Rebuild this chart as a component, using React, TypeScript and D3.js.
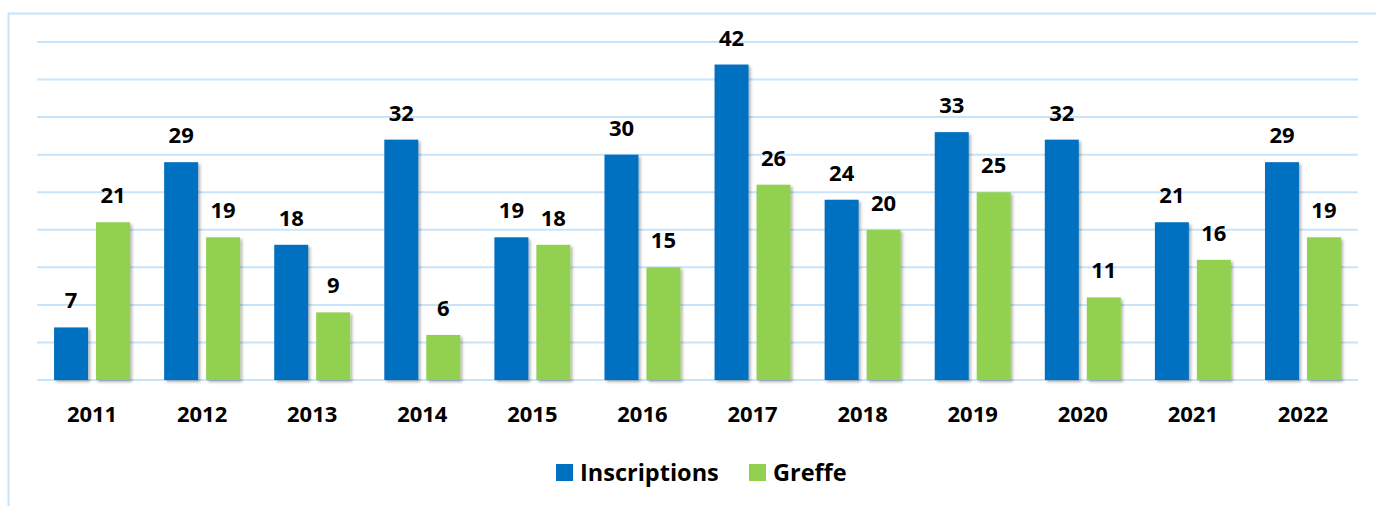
import React, { useEffect, useRef } from 'react';
import * as d3 from 'd3';

const years = ['2011', '2012', '2013', '2014', '2015', '2016', '2017', '2018', '2019', '2020', '2021', '2022'];
const inscriptions = [7, 29, 18, 32, 19, 30, 42, 24, 33, 32, 21, 29];
const greffe = [21, 19, 9, 6, 18, 15, 26, 20, 25, 11, 16, 19];
const seriesNames = ['Inscriptions', 'Greffe'];
const seriesColors = ['#0070C0', '#92D050'];
const yTicks = [0, 5, 10, 15, 20, 25, 30, 35, 40, 45];

const W = 1376;
const H = 506;
const FONT = '"Open Sans", "Noto Sans", sans-serif';

const App = () => {
  const svgRef = useRef<SVGSVGElement>(null);

  useEffect(() => {
    const svg = d3.select(svgRef.current);
    svg.selectAll('*').remove();

    const margin = { top: 42, right: 18, bottom: 126, left: 37 };

    // drop shadow for the bars
    const defs = svg.append('defs');
    const filter = defs.append('filter').attr('id', 'barShadow').attr('x', '-20%').attr('y', '-5%').attr('width', '150%').attr('height', '115%');
    filter
      .append('feDropShadow')
      .attr('dx', 2)
      .attr('dy', 2)
      .attr('stdDeviation', 1.6)
      .attr('flood-color', '#000')
      .attr('flood-opacity', 0.3);

    // frame
    svg
      .append('path')
      .attr('d', `M8.5,${H} L8.5,13.5 L${W},13.5`)
      .attr('fill', 'none')
      .attr('stroke', '#c6e3fa')
      .attr('stroke-width', 2);

    const x0 = d3
      .scaleBand()
      .domain(years)
      .range([margin.left, W - margin.right])
      .paddingInner(0.31)
      .paddingOuter(0.155);

    const x1 = d3.scaleBand().domain(seriesNames).range([0, x0.bandwidth()]).paddingInner(0.19);

    const y = d3
      .scaleLinear()
      .domain([0, 45])
      .range([H - margin.bottom, margin.top]);

    // gridlines
    svg
      .append('g')
      .selectAll('line')
      .data(yTicks)
      .enter()
      .append('line')
      .attr('x1', margin.left)
      .attr('x2', W - margin.right)
      .attr('y1', (d) => y(d))
      .attr('y2', (d) => y(d))
      .attr('stroke', '#c8e4fa')
      .attr('stroke-width', 2);

    const rows = years.map((yr, i) => ({ year: yr, values: [inscriptions[i], greffe[i]] }));

    const groups = svg
      .append('g')
      .selectAll('g')
      .data(rows)
      .enter()
      .append('g')
      .attr('transform', (d) => `translate(${x0(d.year)},0)`);

    groups
      .selectAll('rect')
      .data((d) => d.values.map((v, k) => ({ key: seriesNames[k], v, k })))
      .enter()
      .append('rect')
      .attr('x', (d) => x1(d.key)!)
      .attr('y', (d) => y(d.v))
      .attr('width', x1.bandwidth())
      .attr('height', (d) => y(0) - y(d.v))
      .attr('fill', (d) => seriesColors[d.k])
      .attr('filter', 'url(#barShadow)');

    groups
      .selectAll('text')
      .data((d) => d.values.map((v, k) => ({ key: seriesNames[k], v, k })))
      .enter()
      .append('text')
      .attr('x', (d) => x1(d.key)! + x1.bandwidth() / 2)
      .attr('y', (d) => y(d.v) - 19)
      .attr('text-anchor', 'middle')
      .style('font-family', FONT)
      .style('font-weight', 700)
      .style('font-size', '22px')
      .attr('fill', '#000')
      .text((d) => d.v);

    // x-axis labels
    svg
      .append('g')
      .selectAll('text')
      .data(years)
      .enter()
      .append('text')
      .attr('x', (d) => x0(d)! + x0.bandwidth() / 2)
      .attr('y', 422)
      .attr('text-anchor', 'middle')
      .style('font-family', FONT)
      .style('font-weight', 700)
      .style('font-size', '22px')
      .attr('fill', '#000')
      .text((d) => d);

    // legend
    const legend = svg.append('g');
    const legendX = [556, 749];
    seriesNames.forEach((name, i) => {
      legend
        .append('rect')
        .attr('x', legendX[i])
        .attr('y', 464)
        .attr('width', 17)
        .attr('height', 17)
        .attr('fill', seriesColors[i]);
      legend
        .append('text')
        .attr('x', legendX[i] + 24)
        .attr('y', 481)
        .style('font-family', FONT)
        .style('font-weight', 700)
        .style('font-size', '23.5px')
        .attr('fill', '#000')
        .text(name);
    });
  }, []);

  return (
    <svg
      ref={svgRef}
      width={W}
      height={H}
      style={{ position: 'absolute', left: 0, top: 0, background: '#fff' }}
    />
  );
};

export default App;
